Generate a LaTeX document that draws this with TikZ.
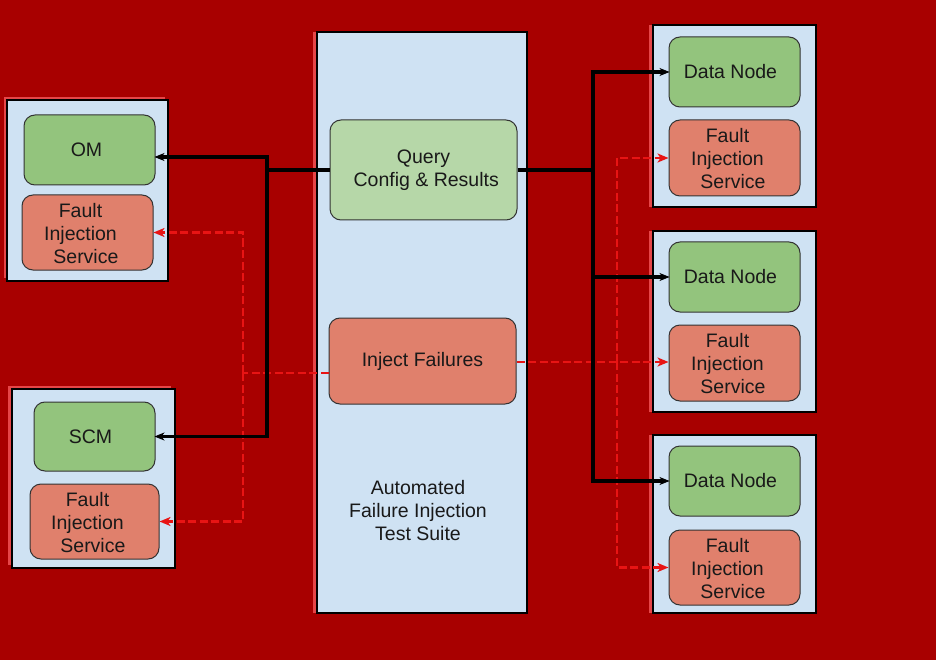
\documentclass[tikz,border=0pt]{standalone}
\usepackage{fontspec}
\setmainfont{Liberation Sans}
\usetikzlibrary{arrows.meta}
\definecolor{bgred}{RGB}{168,0,0}
\definecolor{rim}{RGB}{230,70,72}
\definecolor{contfill}{RGB}{207,226,243}
\definecolor{dngreen}{RGB}{147,196,125}
\definecolor{qgreen}{RGB}{182,215,168}
\definecolor{fisred}{RGB}{224,128,108}
\definecolor{dashred}{RGB}{232,20,20}
\tikzset{
  x=1pt, y=-1pt,
  txt/.style={font=\fontsize{19.5}{23}\selectfont, text=black!90, align=center},
  cont/.style={draw=black, line width=1.6pt, fill=contfill, inner sep=0pt},
  rimbox/.style={fill=rim, draw=none, inner sep=0pt},
  inner/.style={txt, draw=black!80, line width=1pt, rounded corners=11pt, inner sep=0pt},
  dn/.style={inner, fill=dngreen},
  fis/.style={inner, fill=fisred},
  fistext/.style={label={[txt,xshift=-7pt,yshift=-1pt]center:{Fault\\Injection\\\ \ Service}}},
  blk/.style={draw=black, line width=3.5pt, -{Stealth[length=10pt,width=8pt,line width=0.8pt,inset=3pt]}, shorten >=-1pt},
  blkl/.style={draw=black, line width=3.5pt},
  rdl/.style={draw=dashred, line width=2.6pt, dash pattern=on 8pt off 3.5pt},
  rda/.style={rdl, -{Stealth[length=11pt,width=9pt,inset=3pt]}},
}
\begin{document}
\begin{tikzpicture}
\useasboundingbox[fill=bgred] (0,0) rectangle (936,660);
% rims
\node[rimbox, minimum width=161pt, minimum height=181pt] at (84.5,187.5) {};
\node[rimbox, minimum width=163pt, minimum height=179pt] at (89.5,475.5) {};
\node[rimbox, minimum width=210pt, minimum height=581pt] at (418,322.5) {};
\node[rimbox, minimum width=163pt, minimum height=182pt] at (730.5,116) {};
\node[rimbox, minimum width=163pt, minimum height=181pt] at (730.5,321.5) {};
\node[rimbox, minimum width=163pt, minimum height=178pt] at (730.5,524) {};
% containers
\node[cont, minimum width=161pt, minimum height=181pt] (c1) at (87.5,190.5) {};
\node[cont, minimum width=163pt, minimum height=179pt] (c2) at (93.5,478.5) {};
\node[cont, minimum width=210pt, minimum height=581pt] (cc) at (422,322.5) {};
\node[cont, minimum width=163pt, minimum height=182pt] (r1) at (734.5,116) {};
\node[cont, minimum width=163pt, minimum height=181pt] (r2) at (734.5,321.5) {};
\node[cont, minimum width=163pt, minimum height=178pt] (r3) at (734.5,524) {};
% inner nodes
\node[dn, minimum width=131pt, minimum height=70pt, label={[txt,xshift=-3pt]center:OM}] (om) at (89.5,150) {};
\node[fis, minimum width=131pt, minimum height=75pt, fistext] (f1) at (87.5,232.5) {};
\node[dn, minimum width=121pt, minimum height=69pt, label={[txt,xshift=-4pt]center:SCM}] (scm) at (94.5,436.5) {};
\node[fis, minimum width=129pt, minimum height=75pt, fistext] (f2) at (94.5,521.5) {};
\node[inner, fill=qgreen, minimum width=187pt, minimum height=100pt] (q) at (423.5,170) {Query\\\ Config \& Results};
\node[fis, minimum width=187pt, minimum height=86pt] (inj) at (422.5,361) {Inject Failures};
\node[txt] (suite) at (418,511) {Automated\\Failure Injection\\Test Suite};
\node[dn, minimum width=131pt, minimum height=70pt, label={[txt,xshift=-4pt]center:Data Node}] (d1) at (734.5,72) {};
\node[fis, minimum width=131pt, minimum height=76pt, fistext] (g1) at (734.5,158) {};
\node[dn, minimum width=131pt, minimum height=70pt, label={[txt,xshift=-4pt]center:Data Node}] (d2) at (734.5,277) {};
\node[fis, minimum width=131pt, minimum height=76pt, fistext] (g2) at (734.5,363) {};
\node[dn, minimum width=131pt, minimum height=70pt, label={[txt,xshift=-4pt]center:Data Node}] (d3) at (734.5,481) {};
\node[fis, minimum width=131pt, minimum height=75pt, fistext] (g3) at (734.5,567.5) {};
% coordinates for junctions
\coordinate (jl) at (267,170);
\coordinate (jr) at (593,170);
\coordinate (rl) at (243,373);
\coordinate (rr) at (617,362);
% red dashed left
\draw[rdl] (inj.west |- rl) -- (rl);
\draw[rda] (rl) |- (f1.east);
\draw[rda] (rl) |- (f2.east);
% red dashed right
\draw[rda] (inj.east |- rr) -- (g2.west |- rr);
\draw[rda] (rr) |- (g1.west);
\draw[rda] (rr) |- (g3.west);
% black left
\draw[blkl] (q.west) -- (jl);
\draw[blk] (jl) |- ([yshift=-7pt]om.east);
\draw[blk] (jl) |- (scm.east);
% black right
\draw[blkl] (q.east) -- (jr);
\draw[blk] (jr) |- (d1.west);
\draw[blk] (jr) |- (d2.west);
\draw[blk] (jr) |- (d3.west);
\end{tikzpicture}
\end{document}
